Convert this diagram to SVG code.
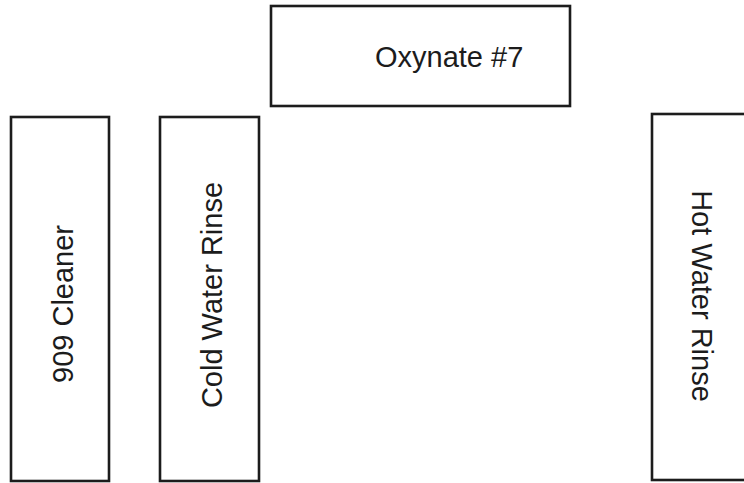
<svg xmlns="http://www.w3.org/2000/svg" width="744" height="483" viewBox="0 0 744 483">
  <style>
    .tank { fill: #ffffff; stroke: #1c1c1c; stroke-width: 2.6; }
    .label { font-family: "Liberation Sans", Arial, sans-serif; font-size: 29px; fill: #1c1c1c; }
  </style>
  <rect x="0" y="0" width="744" height="483" fill="#ffffff"/>

  <g id="oxynate">
    <rect class="tank" x="271" y="6" width="299" height="100"/>
    <text class="label" x="375" y="67">Oxynate #7</text>
  </g>

  <g id="cleaner-909">
    <rect class="tank" x="11" y="117" width="98" height="364"/>
    <text class="label" x="73" y="304" text-anchor="middle" transform="rotate(-90 73 304)">909 Cleaner</text>
  </g>

  <g id="cold-water-rinse">
    <rect class="tank" x="160" y="117" width="99" height="364"/>
    <text class="label" x="222" y="295" text-anchor="middle" transform="rotate(-90 222 295)">Cold Water Rinse</text>
  </g>

  <g id="hot-water-rinse">
    <rect class="tank" x="652" y="114" width="110" height="366"/>
    <text class="label" x="692" y="296" text-anchor="middle" transform="rotate(90 692 296)">Hot Water Rinse</text>
  </g>

  <g id="connectors"></g>
</svg>
